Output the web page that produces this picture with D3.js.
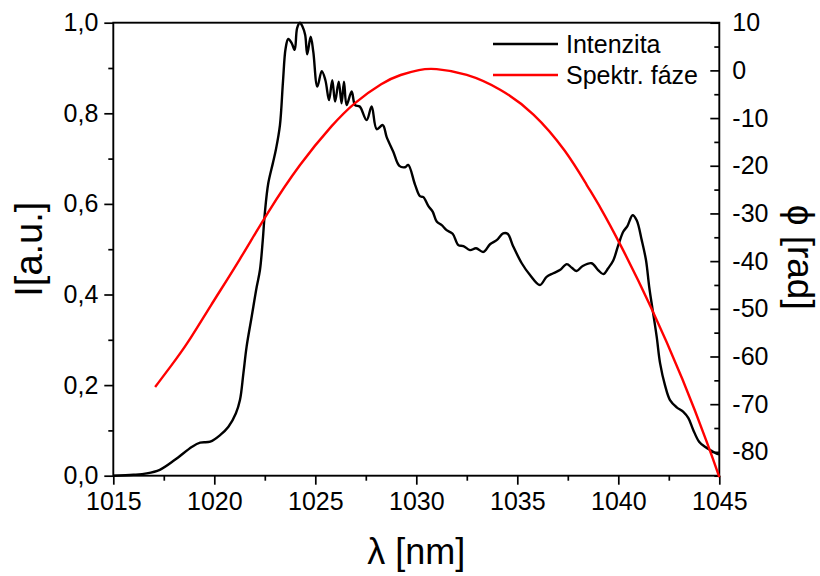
<!DOCTYPE html>
<html>
<head>
<meta charset="utf-8">
<script src="https://cdn.jsdelivr.net/npm/d3@7"></script>
<style>
  html, body { margin: 0; padding: 0; background: #fff; }
  svg { display: block; }
  text { font-family: Arial, "Liberation Sans", sans-serif; fill: #000; }
</style>
</head>
<body>
<svg id="chart" width="820" height="576"></svg>
<script>
// ---- data ----
const intensityWavelength = [1015.0,1016.0,1016.65,1017.3,1018.05,1018.9,1019.3,1019.8,1020.3,1020.7,1021.07,1021.27,1021.44,1021.6,1021.85,1022.1,1022.26,1022.4,1022.5,1022.67,1022.9,1023.05,1023.25,1023.4,1023.53,1023.66,1023.83,1023.98,1024.1,1024.24,1024.37,1024.5,1024.6,1024.77,1024.9,1025.1,1025.32,1025.5,1025.68,1025.84,1025.98,1026.16,1026.3,1026.42,1026.55,1026.8,1026.97,1027.2,1027.54,1027.79,1028.04,1028.34,1028.53,1028.86,1029.16,1029.44,1029.6,1029.94,1030.18,1030.35,1030.6,1030.81,1031.01,1031.26,1031.5,1031.8,1032.08,1032.33,1032.66,1032.96,1033.32,1033.65,1033.98,1034.3,1034.52,1034.8,1035.22,1035.63,1036.12,1036.45,1036.78,1037.11,1037.45,1037.7,1037.94,1038.24,1038.68,1039.0,1039.26,1039.5,1039.75,1040.0,1040.25,1040.45,1040.71,1040.91,1041.16,1041.37,1041.53,1041.7,1041.9,1042.07,1042.31,1042.56,1042.89,1043.22,1043.47,1043.71,1044.0,1044.29,1044.62,1044.9,1045.0];
const intensityValues = [0.0,0.002,0.005,0.013,0.035,0.064,0.073,0.075,0.09,0.108,0.138,0.167,0.226,0.285,0.351,0.417,0.454,0.52,0.579,0.645,0.69,0.72,0.774,0.87,0.943,0.964,0.955,0.94,0.988,1.0,0.991,0.973,0.93,0.969,0.936,0.859,0.893,0.873,0.829,0.873,0.826,0.87,0.822,0.87,0.818,0.848,0.818,0.815,0.785,0.815,0.765,0.774,0.748,0.715,0.684,0.681,0.686,0.642,0.617,0.615,0.595,0.583,0.561,0.553,0.542,0.534,0.509,0.507,0.498,0.502,0.494,0.511,0.52,0.535,0.534,0.506,0.469,0.443,0.421,0.439,0.447,0.454,0.467,0.459,0.452,0.463,0.469,0.454,0.445,0.458,0.475,0.509,0.539,0.551,0.575,0.564,0.52,0.476,0.417,0.366,0.307,0.248,0.2,0.167,0.151,0.141,0.127,0.101,0.075,0.064,0.055,0.048,0.047];

const phaseWavelength = [1017.07,1017.89,1018.63,1019.79,1021.27,1022.6,1024.24,1025.9,1026.88,1028.37,1029.2,1030.18,1030.84,1032.5,1034.15,1035.8,1037.45,1038.5,1039.1,1040.0,1041.6,1043.22,1044.54,1045.0];
const phaseValues = [-66.4,-61.8,-57.6,-49.5,-39.7,-30.0,-19.5,-11.1,-6.9,-2.4,-0.9,0.2,0.5,-0.6,-3.75,-8.7,-17.0,-24.5,-28.6,-35.6,-49.2,-64.9,-79.6,-85.3];

const xTicks = [1015,1020,1025,1030,1035,1040,1045];
const leftTicks = [0.0,0.2,0.4,0.6,0.8,1.0];
const rightTicks = [10,0,-10,-20,-30,-40,-50,-60,-70,-80];
const legendLabels = ["Intenzita","Spektr. fáze"];
const seriesColors = ["#000000","#ff0000"];
const xTitle = "λ [nm]";
const leftTitle = "I[a.u.]";
const rightTitle = "ϕ [rad]";

// ---- layout ----
const svg = d3.select("#chart");
const L = 113.3, R = 719.3, T = 22.7, B = 475.7;

const x = d3.scaleLinear().domain([1015,1045]).range([L,R]);
const yL = d3.scaleLinear().domain([0,1]).range([B,T]);
const yR = d3.scaleLinear().domain([-85,10]).range([B,T]);

const fs = 25;

const xMinor = d3.range(1015, 1045.01, 2.5).filter(v => !xTicks.includes(v));
const lMinor = d3.range(0.1, 1.0, 0.2);
const rMinor = d3.range(-85, 10.01, 5).filter(v => !rightTicks.includes(v));

function styleAxis(g){
  g.selectAll(".domain").remove();
  g.selectAll("line").attr("stroke","#000").attr("stroke-width",1.7);
  g.selectAll("text").attr("font-size",fs).attr("font-family","Arial, 'Liberation Sans', sans-serif").attr("fill","#000");
}

svg.append("g").attr("transform",`translate(0,${B})`)
  .call(d3.axisBottom(x).tickValues(xTicks).tickSize(9).tickPadding(8).tickFormat(d => String(d)))
  .call(styleAxis);
svg.append("g").attr("transform",`translate(0,${B})`)
  .call(d3.axisBottom(x).tickValues(xMinor).tickSize(5).tickFormat(""))
  .call(styleAxis);

const fmtL = d => d3.format(".1f")(d).replace(".", ",");
svg.append("g").attr("transform",`translate(${L},0)`)
  .call(d3.axisLeft(yL).tickValues(leftTicks).tickSize(9).tickPadding(6).tickFormat(fmtL))
  .call(styleAxis);
svg.append("g").attr("transform",`translate(${L},0)`)
  .call(d3.axisLeft(yL).tickValues(lMinor).tickSize(5).tickFormat(""))
  .call(styleAxis);

svg.append("g").attr("transform",`translate(${R},0)`)
  .call(d3.axisRight(yR).tickValues(rightTicks).tickSize(-9).tickPadding(13).tickFormat(d => String(d)))
  .call(styleAxis);
svg.append("g").attr("transform",`translate(${R},0)`)
  .call(d3.axisRight(yR).tickValues(rMinor).tickSize(-5).tickFormat(""))
  .call(styleAxis);

svg.append("rect").attr("x",L).attr("y",T).attr("width",R-L).attr("height",B-T)
  .attr("fill","none").attr("stroke","#000").attr("stroke-width",1.9);

const intensity = intensityWavelength.map((w,i) => [w, intensityValues[i]]);
const phase = phaseWavelength.map((w,i) => [w, phaseValues[i]]);

svg.append("path").datum(intensity)
  .attr("fill","none").attr("stroke",seriesColors[0]).attr("stroke-width",2.4)
  .attr("stroke-linejoin","round")
  .attr("d", d3.line().x(d => x(d[0])).y(d => yL(d[1])).curve(d3.curveCatmullRom.alpha(0.5)));

svg.append("path").datum(phase)
  .attr("fill","none").attr("stroke",seriesColors[1]).attr("stroke-width",2.4)
  .attr("d", d3.line().x(d => x(d[0])).y(d => yR(d[1])).curve(d3.curveBasis));

const legend = svg.append("g");
legendLabels.forEach((lab,i) => {
  const yy = 44 + i*31;
  legend.append("line").attr("x1",493).attr("x2",558).attr("y1",yy).attr("y2",yy)
    .attr("stroke",seriesColors[i]).attr("stroke-width",2.4);
  legend.append("text").attr("x",566).attr("y",yy).attr("dy","0.36em")
    .attr("font-size",fs).text(lab);
});

svg.append("text").attr("x",(L+R)/2).attr("y",564).attr("text-anchor","middle")
  .attr("font-size",36).text(xTitle);
svg.append("text").attr("transform",`translate(42,${(T+B)/2}) rotate(-90)`)
  .attr("text-anchor","middle").attr("font-size",38).text(leftTitle);
svg.append("text").attr("transform",`translate(788,${(T+B)/2 + 8}) rotate(90)`)
  .attr("text-anchor","middle").attr("font-size",37).text(rightTitle);
</script>
</body>
</html>
